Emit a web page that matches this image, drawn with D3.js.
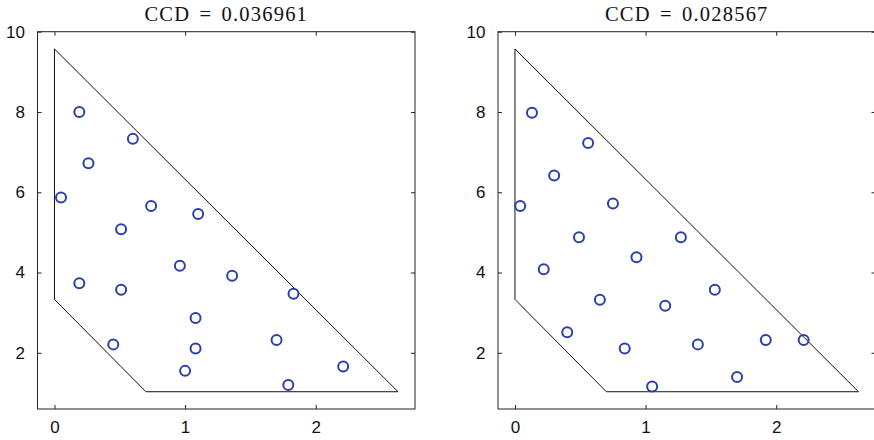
<!DOCTYPE html>
<html><head><meta charset="utf-8">
<script src="https://cdn.jsdelivr.net/npm/d3@7"></script>
<style>body{margin:0;background:#fff}svg{display:block}</style>
</head><body>
<svg id="c" width="874" height="440"></svg>
<script>
const titles = ["CCD = 0.036961", "CCD = 0.028567"];
const xTicks = [0, 1, 2];
const yTicks = [2, 4, 6, 8, 10];
const regionX = [0, 0, 0.70, 2.63, 0];
const regionY = [9.57, 3.33, 1.03, 1.03, 9.57];
const leftX = [0.19,0.60,0.26,0.05,0.74,1.10,0.51,0.96,1.36,0.19,0.51,1.83,1.08,1.70,0.45,1.08,2.21,1.00,1.79];
const leftY = [8.00,7.33,6.72,5.87,5.66,5.46,5.08,4.17,3.92,3.73,3.57,3.47,2.87,2.32,2.21,2.11,1.66,1.55,1.20];
const rightX = [0.13,0.56,0.30,0.04,0.75,0.49,1.27,0.93,0.22,1.53,0.65,1.15,0.40,1.92,2.21,1.40,0.84,1.70,1.05];
const rightY = [7.98,7.23,6.42,5.66,5.72,4.88,4.88,4.38,4.08,3.57,3.32,3.17,2.51,2.32,2.32,2.21,2.11,1.40,1.16];

const svg = d3.select("#c");
const x = d3.scaleLinear().domain([-0.13, 2.76]).range([37.5, 415]);
const y = d3.scaleLinear().domain([0.6, 10]).range([409, 31.7]);
const offsets = [0, 460.5];
const panels = [[leftX, leftY], [rightX, rightY]];

panels.forEach(([px, py], i) => {
  const g = svg.append("g").attr("transform", `translate(${offsets[i]},0)`);
  g.append("rect").attr("x", x.range()[0]).attr("y", y.range()[1])
    .attr("width", x.range()[1]-x.range()[0]).attr("height", y.range()[0]-y.range()[1])
    .attr("fill", "none").attr("stroke", "#222").attr("stroke-width", 1);
  const tl = 4;
  const font = "'Liberation Sans', Arial, sans-serif";
  const xb = g.append("g").attr("transform", `translate(0,${y.range()[0]})`)
    .call(d3.axisBottom(x).tickValues(xTicks).tickSize(-tl).tickPadding(11.5).tickFormat(d3.format("d")));
  const xt = g.append("g").attr("transform", `translate(0,${y.range()[1]})`)
    .call(d3.axisTop(x).tickValues(xTicks).tickSize(-tl).tickFormat(""));
  const yl = g.append("g").attr("transform", `translate(${x.range()[0]},0)`)
    .call(d3.axisLeft(y).tickValues(yTicks).tickSize(-tl).tickPadding(12.5).tickFormat(d3.format("d")));
  const yr = g.append("g").attr("transform", `translate(${x.range()[1]},0)`)
    .call(d3.axisRight(y).tickValues(yTicks).tickSize(-tl).tickFormat(""));
  [xb, xt, yl, yr].forEach(a => {
    a.select(".domain").remove();
    a.selectAll("line").attr("stroke", "#222");
    a.selectAll("text").attr("font-family", font).attr("font-size", 17).attr("fill", "#111");
  });
  const line = d3.line().x(d => x(d[0])).y(d => y(d[1]));
  g.append("path").datum(regionX.map((v, k) => [v, regionY[k]]))
    .attr("d", line).attr("fill", "none").attr("stroke", "#111").attr("stroke-width", 1);
  g.selectAll("circle.pt").data(px.map((v, k) => [v, py[k]])).join("circle")
    .attr("class", "pt").attr("cx", d => x(d[0])).attr("cy", d => y(d[1])).attr("r", 5)
    .attr("fill", "none").attr("stroke", "#2b40a8").attr("stroke-width", 2);
  g.append("text").attr("x", (x.range()[0]+x.range()[1])/2).attr("y", 21)
    .attr("text-anchor", "middle").attr("font-family", "'Liberation Serif', 'DejaVu Serif', serif")
    .attr("font-size", 20.5).attr("letter-spacing", 1.2).attr("word-spacing", 3)
    .attr("fill", "#111").text(titles[i]);
});
</script>
</body></html>
